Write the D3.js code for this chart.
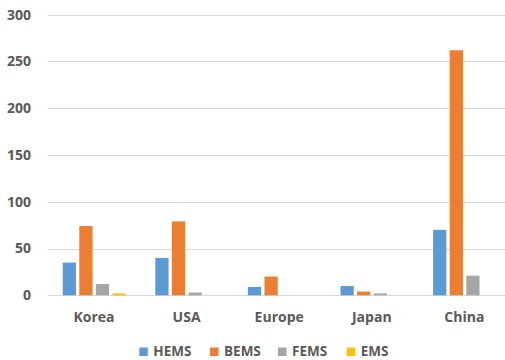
<!DOCTYPE html>
<html>
<head>
<meta charset="utf-8">
<script src="https://cdn.jsdelivr.net/npm/d3@7"></script>
<style>
  body { margin: 0; background: #fff; }
  svg { display: block; font-family: "Open Sans", sans-serif; }
</style>
</head>
<body>
<div id="chart"></div>
<script>
"use strict";

// data
var regions = ["Korea", "USA", "Europe", "Japan", "China"];
var seriesNames = ["HEMS", "BEMS", "FEMS", "EMS"];
var hems = [35, 40, 9, 10, 70];
var bems = [74, 79, 20, 4, 262];
var fems = [12, 3, 0, 2, 21];
var ems = [2, 0, 0, 0, 0];
var yTicks = [0, 50, 100, 150, 200, 250, 300];

var colors = ["#5B9BD5", "#ED7D31", "#A5A5A5", "#FFC000"];
var seriesValues = [hems, bems, fems, ems];

var width = 505, height = 360;
var plot = {left: 47.7, right: 510.7, top: 14.7, bottom: 295.3};

var svg = d3.select("#chart").append("svg")
  .attr("width", width)
  .attr("height", height);

var x = d3.scaleBand().domain(regions).range([plot.left, plot.right]);
var y = d3.scaleLinear().domain([0, 300]).range([plot.bottom, plot.top]);
var inner = d3.scaleBand().domain(seriesNames).range([15, 78]).paddingInner(0.2);

// gridlines
svg.append("g").selectAll("line")
  .data(yTicks)
  .enter().append("line")
  .attr("x1", plot.left).attr("x2", width)
  .attr("y1", function(d) { return Math.round(y(d)) + 0.5; })
  .attr("y2", function(d) { return Math.round(y(d)) + 0.5; })
  .attr("stroke", "#D9D9D9")
  .attr("stroke-width", 1);

// y tick labels
svg.append("g").selectAll("text")
  .data(yTicks)
  .enter().append("text")
  .attr("x", 31)
  .attr("y", function(d) { return y(d); })
  .attr("dy", "0.35em")
  .attr("text-anchor", "end")
  .attr("font-size", 14)
  .attr("font-weight", 700)
  .attr("fill", "#595959")
  .text(function(d) { return d; });

// bars
var groups = svg.append("g").selectAll("g")
  .data(regions)
  .enter().append("g")
  .attr("transform", function(d) { return "translate(" + x(d) + ",0)"; });

groups.each(function(r, i) {
  d3.select(this).selectAll("rect")
    .data(seriesNames)
    .enter().append("rect")
    .attr("x", function(s) { return inner(s); })
    .attr("width", inner.bandwidth())
    .attr("y", function(s, j) { return y(seriesValues[j][i]); })
    .attr("height", function(s, j) { return plot.bottom - y(seriesValues[j][i]); })
    .attr("fill", function(s, j) { return colors[j]; });
});

// category labels
svg.append("g").selectAll("text")
  .data(regions)
  .enter().append("text")
  .attr("x", function(d) { return x(d) + x.bandwidth() / 2; })
  .attr("y", 317)
  .attr("dy", "0.35em")
  .attr("text-anchor", "middle")
  .attr("font-size", 14)
  .attr("font-weight", 700)
  .attr("fill", "#595959")
  .text(function(d) { return d; });

// legend
var legendX = [139.3, 210, 278, 346.7];
var legend = svg.append("g").selectAll("g")
  .data(seriesNames)
  .enter().append("g")
  .attr("transform", function(d, i) { return "translate(" + legendX[i] + ",347.5)"; });

legend.append("rect")
  .attr("width", 8.5).attr("height", 8.5)
  .attr("fill", function(d, i) { return colors[i]; });

legend.append("text")
  .attr("x", 14)
  .attr("y", 8.2)
  .attr("font-size", 13.5)
  .attr("font-weight", 700)
  .attr("fill", "#595959")
  .text(function(d) { return d; });
</script>
</body>
</html>
